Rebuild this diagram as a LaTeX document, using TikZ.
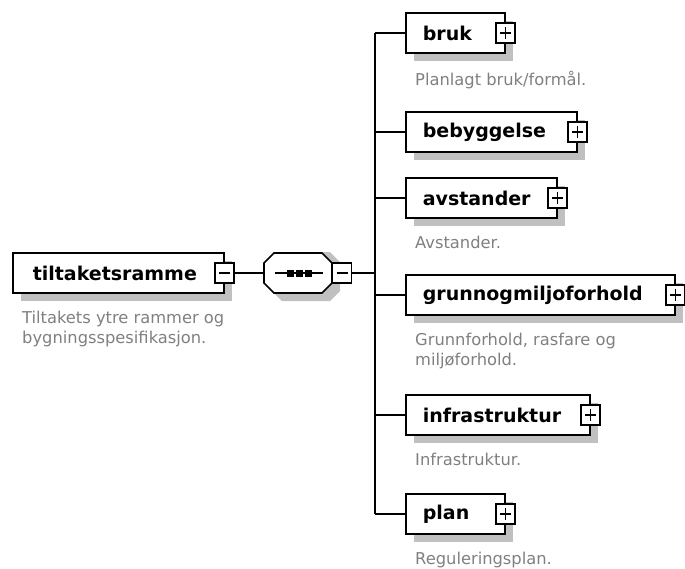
\documentclass[tikz,border=0pt]{standalone}
\usepackage{fontspec}
\setmainfont{DejaVu Sans}
\definecolor{shadowgrey}{RGB}{192,192,192}
\definecolor{descgrey}{RGB}{128,128,128}
\begin{document}
\begin{tikzpicture}[x=1pt,y=-1pt,
  shadowed/.style={preaction={draw=none, fill=shadowgrey, transform canvas={xshift=8pt, yshift=-8pt}}},
  elem/.style={shadowed, draw, fill=white, line width=1.6pt, minimum height=40pt,
    inner xsep=17pt, inner ysep=0pt, align=left, anchor=west,
    font=\fontsize{19}{22}\selectfont\bfseries},
  desc/.style={anchor=north west, inner sep=0pt, align=left, text=descgrey,
    font=\fontsize{16.3}{20}\selectfont},
  pm/.style={draw, fill=white, line width=1.4pt, minimum width=19pt, minimum height=20pt, inner sep=0pt},
  minusbox/.style={pm, path picture={\draw[line width=1.4pt]
      ([xshift=4pt]path picture bounding box.west) -- ([xshift=-4pt]path picture bounding box.east);}},
  plusbox/.style={pm, path picture={\draw[line width=1.4pt]
      ([xshift=4pt]path picture bounding box.west) -- ([xshift=-4pt]path picture bounding box.east)
      ([yshift=-4pt]path picture bounding box.north) -- ([yshift=4pt]path picture bounding box.south);}},
  seqbox/.style={minimum width=68pt, minimum height=41pt, inner sep=0pt, outer sep=0pt},
  conn/.style={line width=1.6pt}
]
\path[use as bounding box, fill=white] (0,0) rectangle (685,568);

% root element
\node[elem, text width=171pt, inner xsep=20pt] (root) at (12,273) {tiltaketsramme};
\node[minusbox] (rootm) at (root.east) {};
\node[desc] (rootd) at ([xshift=10pt, yshift=-17pt]root.south west)
  {Tiltakets ytre rammer og\\bygningsspesifikasjon.};

% sequence compositor (octagon)
\node[seqbox] (seq) at (298,273) {};
\fill[shadowgrey, shift={(seq.center)}] (-26,-11) -- (-16,-21) -- (32,-21) -- (42,-11)
  -- (42,18) -- (32,28) -- (-16,28) -- (-26,18) -- cycle;
\draw[line width=1.6pt, fill=white, shift={(seq.center)}] (-34,-10) -- (-24,-20) -- (24,-20) -- (34,-10)
  -- (34,10) -- (24,20) -- (-24,20) -- (-34,10) -- cycle;
\draw[line width=1.4pt] ([xshift=-23pt]seq.center) -- ([xshift=25pt]seq.center);
\foreach \dx in {-8,1,10} {
  \fill ([xshift=\dx pt]seq.center) +(-3.5pt,-3.5pt) rectangle +(3.5pt,3.5pt);
}
\node[minusbox, anchor=west] (seqm) at (seq.east) {};
\draw[conn] (rootm) -- (seq);

% children
\node[elem, text width=65pt] (bruk) at (405,33) {bruk};
\node[elem, text width=137pt] (bebyggelse) at (405,132) {bebyggelse};
\node[elem, text width=117pt] (avstander) at (405,198) {avstander};
\node[elem, text width=235pt] (grunn) at (405,295) {grunnogmiljoforhold};
\node[elem, text width=150pt] (infra) at (405,415) {infrastruktur};
\node[elem, text width=65pt] (plan) at (405,514) {plan};

\foreach \n in {bruk,bebyggelse,avstander,grunn,infra,plan} {
  \node[plusbox] (\n p) at (\n.east) {};
}

\node[desc] (brukd) at ([xshift=10pt, yshift=-17pt]bruk.south west) {Planlagt bruk/formål.};
\node[desc] (avstanderd) at ([xshift=10pt, yshift=-17pt]avstander.south west) {Avstander.};
\node[desc] (grunnd) at ([xshift=10pt, yshift=-17pt]grunn.south west) {Grunnforhold, rasfare og\\miljøforhold.};
\node[desc] (infrad) at ([xshift=10pt, yshift=-17pt]infra.south west) {Infrastruktur.};
\node[desc] (pland) at ([xshift=10pt, yshift=-17pt]plan.south west) {Reguleringsplan.};

% connectors
\coordinate (spine) at (375,273);
\draw[conn] (seqm.east) -- (spine);
\draw[conn] (spine |- bruk.west) -- (spine |- plan.west);
\foreach \n in {bruk,bebyggelse,avstander,grunn,infra,plan} {
  \draw[conn] (spine |- \n.west) -- (\n.west);
}
\end{tikzpicture}
\end{document}
